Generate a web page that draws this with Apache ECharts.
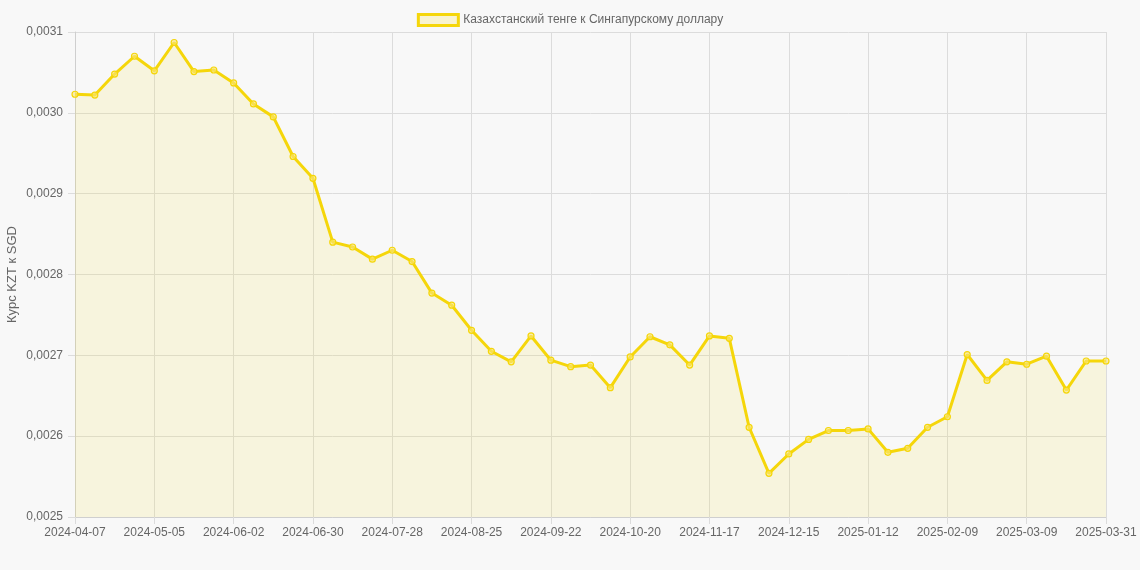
<!DOCTYPE html>
<html><head><meta charset="utf-8">
<script src="https://cdn.jsdelivr.net/npm/echarts@6/dist/echarts.min.js"></script>
<style>html,body{margin:0;padding:0;background:#f8f8f8;}#c{width:1140px;height:570px;}</style>
</head><body><div id="c"></div>
<script>
const dates = ["2024-04-07","2024-04-14","2024-04-21","2024-04-28","2024-05-05","2024-05-12","2024-05-19","2024-05-26","2024-06-02","2024-06-09","2024-06-16","2024-06-23","2024-06-30","2024-07-07","2024-07-14","2024-07-21","2024-07-28","2024-08-04","2024-08-11","2024-08-18","2024-08-25","2024-09-01","2024-09-08","2024-09-15","2024-09-22","2024-09-29","2024-10-06","2024-10-13","2024-10-20","2024-10-27","2024-11-03","2024-11-10","2024-11-17","2024-11-24","2024-12-01","2024-12-08","2024-12-15","2024-12-22","2024-12-29","2025-01-05","2025-01-12","2025-01-19","2025-01-26","2025-02-02","2025-02-09","2025-02-16","2025-02-23","2025-03-02","2025-03-09","2025-03-16","2025-03-23","2025-03-30","2025-03-31"];
const rates = [0.003023,0.003022,0.003048,0.003070,0.003052,0.003087,0.003051,0.003053,0.003037,0.003011,0.002995,0.002946,0.002919,0.002840,0.002834,0.002819,0.002830,0.002816,0.002777,0.002762,0.002731,0.002705,0.002692,0.002724,0.002694,0.002686,0.002688,0.002660,0.002698,0.002723,0.002713,0.002688,0.002724,0.002721,0.002611,0.002554,0.002578,0.002596,0.002607,0.002607,0.002609,0.002580,0.002585,0.002611,0.002624,0.002701,0.002669,0.002692,0.002689,0.002699,0.002657,0.002693,0.002693];
const seriesName = "Казахстанский тенге к Сингапурскому доллару";
const yName = "Курс KZT к SGD";

const chart = echarts.init(document.getElementById('c'));
const txt = '#666';
const font = 'Liberation Sans, Arial, sans-serif';
chart.setOption({
  backgroundColor: '#f8f8f8',
  textStyle: {fontFamily: font},
  animation: false,
  legend: {
    top: 8, left: 'center',
    itemWidth: 40, itemHeight: 11, itemGap: 10,
    icon: 'rect',
    textStyle: {color: txt, fontSize: 12, fontFamily: font},
    data: [{name: seriesName, itemStyle: {color: 'rgba(250,220,20,0.18)', borderColor: '#f5d60a', borderWidth: 3}}]
  },
  grid: {left: 75, right: 34, top: 32, bottom: 53, containLabel: false, outerBoundsMode: 'none'},
  xAxis: {
    type: 'category', data: dates, boundaryGap: false,
    axisLine: {show: true, lineStyle: {color: '#cfcfcf'}},
    axisTick: {show: true, interval: 3, length: 7, lineStyle: {color: '#dcdcdc'}},
    axisLabel: {interval: 3, color: txt, fontSize: 12, margin: 10, fontFamily: font},
    splitLine: {show: true, interval: 3, lineStyle: {color: '#dcdcdc'}}
  },
  yAxis: {
    type: 'value', min: 0.0025, max: 0.0031, interval: 0.0001,
    name: yName, nameLocation: 'middle', nameGap: 56, nameRotate: 90, nameMoveOverlap: false,
    nameTextStyle: {color: txt, fontSize: 13, fontFamily: font},
    axisLine: {show: true, lineStyle: {color: '#cfcfcf'}},
    axisTick: {show: true, length: 7, lineStyle: {color: '#dcdcdc'}},
    axisLabel: {color: txt, fontSize: 12, margin: 12, fontFamily: font,
      formatter: v => v.toFixed(4).replace('.', ',')},
    splitLine: {show: true, lineStyle: {color: '#dcdcdc'}}
  },
  series: [{
    name: seriesName, type: 'line', data: rates,
    symbol: 'circle', symbolSize: 6, showSymbol: true,
    lineStyle: {color: '#f5d60a', width: 3},
    itemStyle: {color: 'rgba(250,230,120,0.6)', borderColor: '#f5d60a', borderWidth: 1.2},
    areaStyle: {color: 'rgba(250,220,20,0.16)'}
  }]
});
</script></body></html>
